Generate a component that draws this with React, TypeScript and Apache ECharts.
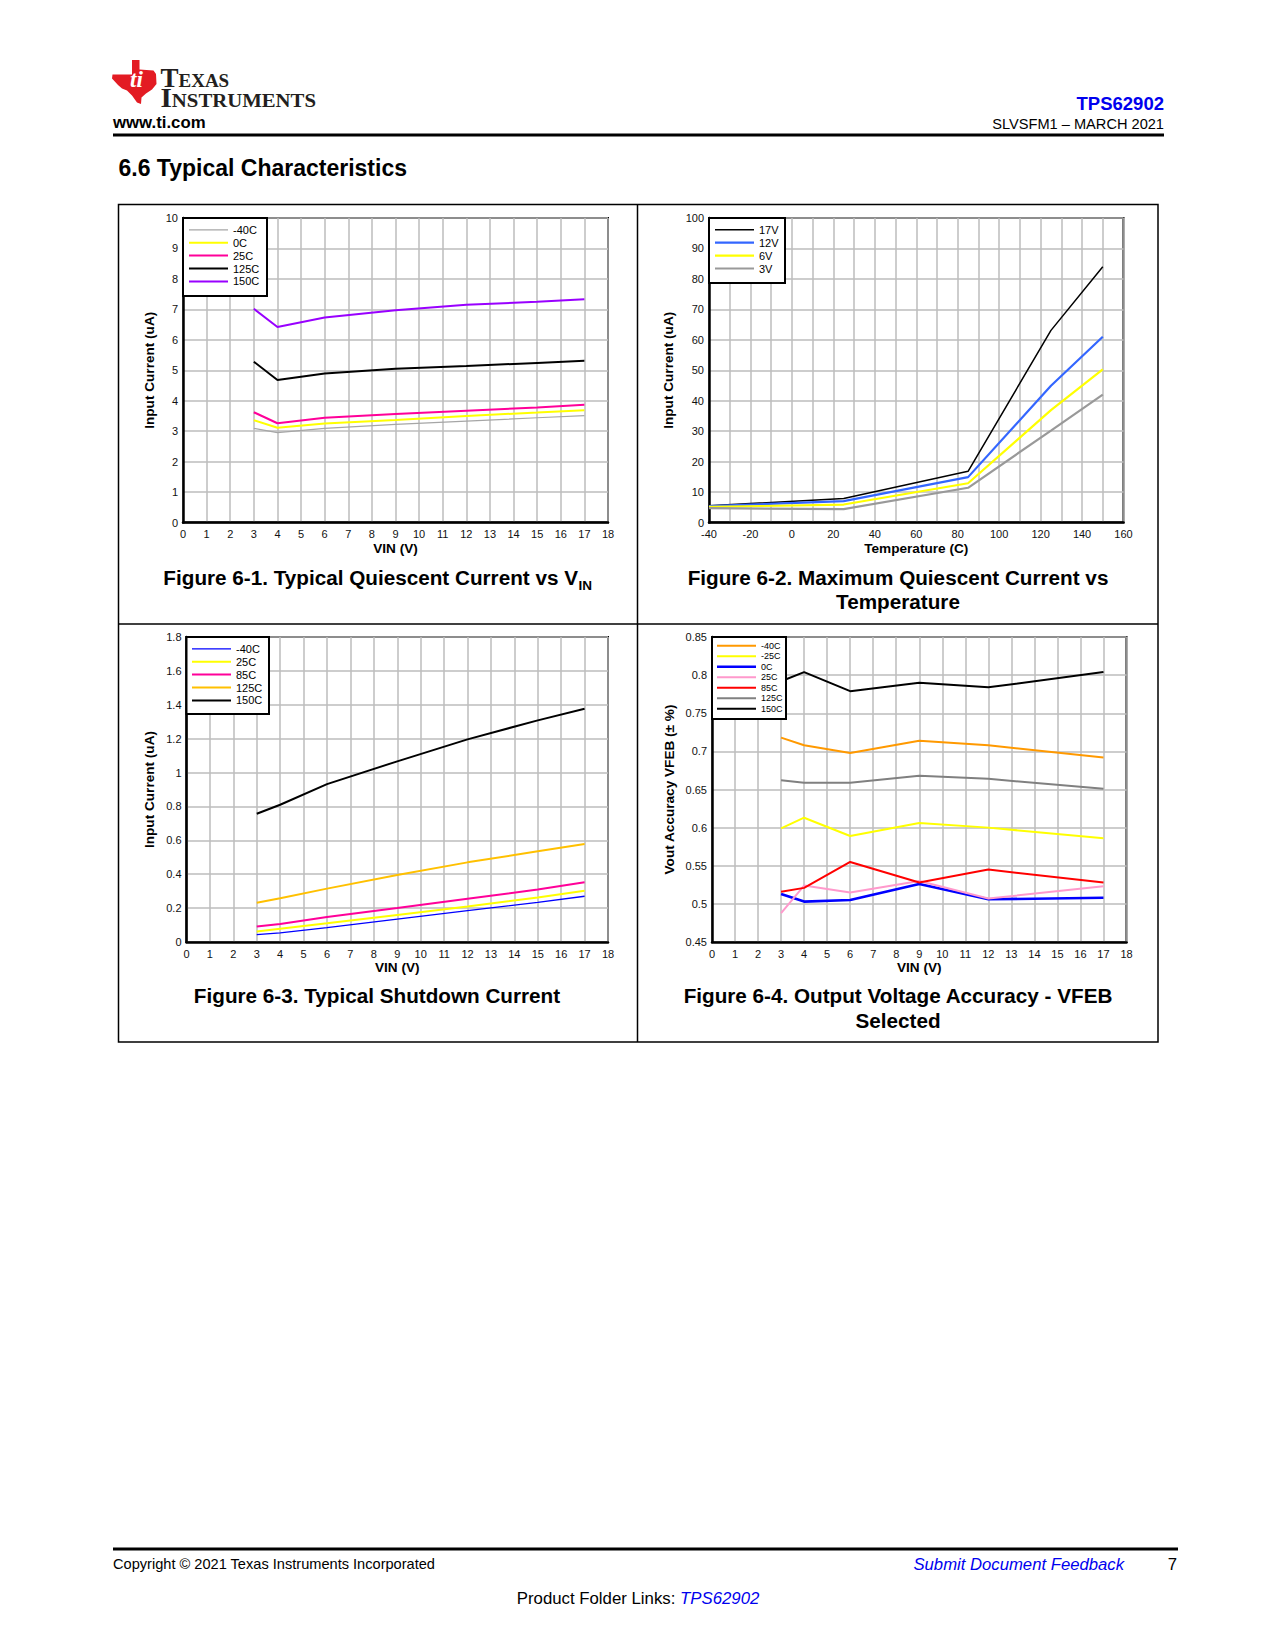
import React, { useEffect, useRef } from "react";
import * as echarts from "echarts";

const FONT = '"Liberation Sans", Arial, Helvetica, sans-serif';
const SERIF = '"Liberation Serif", "Times New Roman", serif';
const GRID_COLOR = "#bdbdbd";

// ---------- Figure 6-1: Typical Quiescent Current vs VIN ----------
const fig1Vin = [3, 4, 6, 9, 12, 15, 17];
const fig1Names = ["-40C", "0C", "25C", "125C", "150C"];
const fig1Minus40 = [3.09, 2.95, 3.09, 3.22, 3.33, 3.44, 3.51];
const fig1T0 = [3.36, 3.11, 3.25, 3.37, 3.5, 3.61, 3.69];
const fig1T25 = [3.62, 3.26, 3.44, 3.56, 3.67, 3.78, 3.87];
const fig1T125 = [5.28, 4.68, 4.89, 5.05, 5.14, 5.24, 5.31];
const fig1T150 = [7.02, 6.42, 6.73, 6.97, 7.15, 7.25, 7.33];

// ---------- Figure 6-2: Maximum Quiescent Current vs Temperature ----------
const fig2Temp = [-40, 25, 85, 125, 150];
const fig2Names = ["17V", "12V", "6V", "3V"];
const fig2V17 = [5.5, 7.9, 16.8, 63.1, 84];
const fig2V12 = [5.4, 7.0, 14.9, 44.9, 61];
const fig2V6 = [5.1, 5.9, 12.9, 36.9, 50.3];
const fig2V3 = [4.7, 4.4, 11.4, 30.2, 42];

// ---------- Figure 6-3: Typical Shutdown Current ----------
const fig3Vin = [3, 4, 6, 9, 12, 15, 17];
const fig3Names = ["-40C", "25C", "85C", "125C", "150C"];
const fig3Minus40 = [0.043, 0.054, 0.085, 0.135, 0.185, 0.234, 0.27];
const fig3T25 = [0.062, 0.078, 0.11, 0.16, 0.21, 0.262, 0.302];
const fig3T85 = [0.092, 0.106, 0.148, 0.2, 0.255, 0.31, 0.352];
const fig3T125 = [0.232, 0.258, 0.315, 0.395, 0.47, 0.535, 0.578];
const fig3T150 = [0.757, 0.81, 0.932, 1.066, 1.196, 1.308, 1.377];

// ---------- Figure 6-4: Output Voltage Accuracy - VFEB Selected ----------
const fig4Vin = [3, 4, 6, 9, 12, 17];
const fig4Names = ["-40C", "-25C", "0C", "25C", "85C", "125C", "150C"];
const fig4Minus40 = [0.718, 0.708, 0.698, 0.714, 0.708, 0.692];
const fig4Minus25 = [0.599, 0.613, 0.589, 0.606, 0.6, 0.586];
const fig4T0 = [0.513, 0.503, 0.505, 0.526, 0.506, 0.508];
const fig4T25 = [0.488, 0.524, 0.515, 0.53, 0.507, 0.523];
const fig4T85 = [0.516, 0.521, 0.555, 0.528, 0.545, 0.528];
const fig4T125 = [0.662, 0.659, 0.659, 0.668, 0.664, 0.651];
const fig4T150 = [0.792, 0.804, 0.779, 0.79, 0.784, 0.804];

// ---------- styles (kept apart from the data) ----------
const fig1Colors = ["#a6a6a6", "#ffff00", "#ff0099", "#000000", "#9900ff"];
const fig1Widths = [1.2, 2, 2, 2, 2];
const fig2Colors = ["#000000", "#3366ff", "#ffff00", "#999999"];
const fig2Widths = [1.5, 2.2, 2.2, 2.2];
const fig3Colors = ["#0000ff", "#ffff00", "#ff0099", "#ffc000", "#000000"];
const fig3Widths = [1.3, 2, 2, 2, 2];
const fig4Colors = ["#ff9900", "#ffff00", "#0000ff", "#ff99cc", "#ff0000", "#808080", "#000000"];
const fig4Widths = [2, 2, 2.6, 2, 2, 2, 2];

type Fig = {
  id: string;
  x: number[];
  names: string[];
  values: number[][];
  colors: string[];
  widths: number[];
};

const figs: Fig[] = [
  { id: "f1", x: fig1Vin, names: fig1Names, values: [fig1Minus40, fig1T0, fig1T25, fig1T125, fig1T150], colors: fig1Colors, widths: fig1Widths },
  { id: "f2", x: fig2Temp, names: fig2Names, values: [fig2V17, fig2V12, fig2V6, fig2V3], colors: fig2Colors, widths: fig2Widths },
  { id: "f3", x: fig3Vin, names: fig3Names, values: [fig3Minus40, fig3T25, fig3T85, fig3T125, fig3T150], colors: fig3Colors, widths: fig3Widths },
  { id: "f4", x: fig4Vin, names: fig4Names, values: [fig4Minus40, fig4Minus25, fig4T0, fig4T25, fig4T85, fig4T125, fig4T150], colors: fig4Colors, widths: fig4Widths },
];

const grids = [
  { left: 183, top: 218, width: 425, height: 304.5 },
  { left: 709, top: 218, width: 414.5, height: 304.5 },
  { left: 186.5, top: 637, width: 421.5, height: 305 },
  { left: 712, top: 637, width: 414.5, height: 305 },
];

const legendLayout = [
  { left: 189, top: 224.3, itemHeight: 10, gap: 1.9, fontSize: 11, box: [183, 218, 84, 78] },
  { left: 715, top: 224.3, itemHeight: 10, gap: 1.9, fontSize: 11, box: [709, 218, 76, 65] },
  { left: 192, top: 643.3, itemHeight: 10, gap: 1.9, fontSize: 11, box: [186.5, 637, 82.5, 77] },
  { left: 717, top: 641.2, itemHeight: 8, gap: 1.5, fontSize: 9, box: [712, 637, 74, 82] },
];

function xAxis(gi: number, min: number, max: number, interval: number, name: string, nameGap: number, minor = 0) {
  return {
    type: "value",
    gridIndex: gi,
    min,
    max,
    interval,
    name,
    nameLocation: "middle",
    nameGap,
    nameTextStyle: { fontFamily: FONT, fontWeight: "bold", fontSize: 13.6, color: "#000" },
    axisLine: { show: true, onZero: false, lineStyle: { color: "#000", width: 2.5 } },
    axisTick: { show: false },
    axisLabel: { margin: 6, fontFamily: FONT, fontSize: 11, color: "#111", showMinLabel: true, showMaxLabel: true },
    splitLine: { show: true, lineStyle: { color: GRID_COLOR, width: 1.5 } },
    minorTick: { show: false, splitNumber: minor || 5 },
    minorSplitLine: { show: minor > 0, lineStyle: { color: GRID_COLOR, width: 1.5 } },
  };
}

function yAxis(gi: number, min: number, max: number, interval: number, name: string, nameGap: number) {
  return {
    type: "value",
    gridIndex: gi,
    min,
    max,
    interval,
    name,
    nameLocation: "middle",
    nameGap,
    nameTextStyle: { fontFamily: FONT, fontWeight: "bold", fontSize: 13.6, color: "#000" },
    axisLine: { show: true, onZero: false, lineStyle: { color: "#000", width: 2.5 } },
    axisTick: { show: false },
    axisLabel: { margin: 5, fontFamily: FONT, fontSize: 11, color: "#111", showMinLabel: true, showMaxLabel: true },
    splitLine: { show: true, lineStyle: { color: GRID_COLOR, width: 1.5 } },
  };
}

function text(x: number, y: number, t: string, size: number, opts: any = {}) {
  const style: any = {
    text: t,
    fontFamily: opts.family ?? FONT,
    fontSize: size,
    fontWeight: opts.weight ?? "normal",
    fontStyle: opts.style ?? "normal",
    fill: opts.fill ?? "#000",
    align: opts.align ?? "left",
    verticalAlign: opts.valign ?? "middle",
  };
  if (opts.lineHeight) style.lineHeight = opts.lineHeight;
  return {
    type: "text",
    x,
    y,
    z: opts.z ?? 20,
    scaleX: opts.scaleX ?? 1,
    style,
  };
}

function logoWord(x: number, y: number, t: string, scaleX: number) {
  return {
    type: "text",
    x,
    y,
    z: 20,
    scaleX,
    style: {
      text: t,
      font: 'small-caps bold 27px "Liberation Serif", "Times New Roman", serif',
      lineHeight: 20,
      fill: "#231f20",
      align: "left",
      verticalAlign: "middle",
    },
  };
}

function line(x1: number, y1: number, x2: number, y2: number, w: number) {
  return { type: "line", z: 20, shape: { x1, y1, x2, y2 }, style: { stroke: "#000", lineWidth: w } };
}

function buildOption() {
  const series: any[] = [];
  const legends: any[] = [];
  figs.forEach((f, gi) => {
    f.names.forEach((n, si) => {
      series.push({
        type: "line",
        name: f.id + "|" + n,
        xAxisIndex: gi,
        yAxisIndex: gi,
        data: f.x.map((x, i) => [x, f.values[si][i]]),
        symbol: "none",
        showSymbol: false,
        silent: true,
        z: 2,
        lineStyle: { color: f.colors[si], width: f.widths[si] },
        itemStyle: { color: f.colors[si] },
      });
    });
    const L = legendLayout[gi];
    legends.push({
      show: true,
      orient: "vertical",
      left: L.left,
      top: L.top,
      padding: 0,
      itemGap: L.gap,
      itemWidth: 39,
      itemHeight: L.itemHeight,
      selectedMode: false,
      z: 11,
      data: f.names.map((n, si) => ({
        name: f.id + "|" + n,
        icon: `path://M0,0h39v${f.widths[si]}h-39z`,
      })),
      formatter: (name: string) => name.split("|")[1],
      itemStyle: { borderWidth: 0 },
      textStyle: { fontFamily: FONT, fontSize: L.fontSize, color: "#000", lineHeight: L.itemHeight },
    });
  });

  const legendBoxes = legendLayout.map((L) => ({
    type: "rect",
    z: 10,
    shape: { x: L.box[0], y: L.box[1], width: L.box[2], height: L.box[3] },
    style: { fill: "#fff", stroke: "#000", lineWidth: 2 },
  }));

  const logoPts = [
    [132, 60], [139.5, 60], [139.5, 69.5], [153.5, 70.5], [156, 74], [156.5, 84], [152, 89.5], [146, 93.5],
    [141.5, 97.5], [141, 104], [137, 102.5], [132, 95.5], [127, 90.5], [122, 88.5], [118, 85], [112, 78.5], [112.5, 74.5], [132, 74.5],
  ];

  const elements: any[] = [
    // header
    { type: "polygon", z: 20, shape: { points: logoPts }, style: { fill: "#e31b23" } },
    text(136.5, 79, "ti", 23, { weight: "bold", style: "italic", fill: "#fff", align: "center", family: SERIF, lineHeight: 20 }),
    logoWord(160.5, 77.5, "Texas", 1.0),
    logoWord(160.5, 97.5, "Instruments", 1.08),
    text(113, 122.5, "www.ti.com", 16.8, { weight: "bold" }),
    text(1164, 103, "TPS62902", 18.5, { weight: "bold", align: "right", fill: "#0000ee" }),
    text(1164, 124, "SLVSFM1 \u2013 MARCH 2021", 14.6, { align: "right" }),
    line(113, 135, 1164, 135, 3),
    text(118.5, 168.3, "6.6 Typical Characteristics", 23, { weight: "bold" }),

    // frame
    { type: "rect", z: 20, shape: { x: 118.5, y: 204.5, width: 1039.5, height: 837.5 }, style: { fill: "none", stroke: "#000", lineWidth: 1.5 } },
    line(637.5, 204.5, 637.5, 1042, 1.5),
    line(118.5, 624, 1158, 624, 1.5),

    // captions
    text(578, 577.5, "Figure 6-1. Typical Quiescent Current vs V", 20.7, { weight: "bold", align: "right" }),
    text(578.5, 585, "IN", 13.5, { weight: "bold" }),
    text(898, 577.5, "Figure 6-2. Maximum Quiescent Current vs", 20.7, { weight: "bold", align: "center" }),
    text(898, 601.5, "Temperature", 20.7, { weight: "bold", align: "center" }),
    text(377, 995.5, "Figure 6-3. Typical Shutdown Current", 20.7, { weight: "bold", align: "center" }),
    text(898, 995.5, "Figure 6-4. Output Voltage Accuracy - VFEB", 20.7, { weight: "bold", align: "center" }),
    text(898, 1020, "Selected", 20.7, { weight: "bold", align: "center" }),

    // footer
    line(113, 1549, 1178, 1549, 3),
    text(113, 1564, "Copyright \u00a9 2021 Texas Instruments Incorporated", 14.6),
    text(1124, 1564, "Submit Document Feedback", 16.7, { style: "italic", align: "right", fill: "#0000ee" }),
    text(1177, 1564, "7", 16.7, { align: "right" }),
    text(680, 1598.5, "Product Folder Links: ", 16.8, { align: "right" }),
    text(680, 1598.5, "TPS62902", 16.8, { style: "italic", fill: "#0000ee" }),
    ...legendBoxes,
  ];

  return {
    animation: false,
    backgroundColor: "#ffffff",
    textStyle: { fontFamily: FONT },
    grid: grids.map((g) => ({ ...g, show: true, borderColor: "#000", borderWidth: 2, backgroundColor: "transparent" })),
    xAxis: [
      xAxis(0, 0, 18, 1, "VIN (V)", 19),
      xAxis(1, -40, 160, 20, "Temperature (C)", 19, 2),
      xAxis(2, 0, 18, 1, "VIN (V)", 18.5),
      xAxis(3, 0, 18, 1, "VIN (V)", 18.5),
    ],
    yAxis: [
      yAxis(0, 0, 10, 1, "Input Current (uA)", 27),
      yAxis(1, 0, 100, 10, "Input Current (uA)", 34),
      yAxis(2, 0, 1.8, 0.2, "Input Current (uA)", 30),
      yAxis(3, 0.45, 0.85, 0.05, "Vout Accuracy VFEB (\u00b1 %)", 36),
    ],
    legend: legends,
    series,
    graphic: { elements },
  };
}

export default function App() {
  const ref = useRef<HTMLDivElement>(null);
  useEffect(() => {
    if (!ref.current) return;
    const chart = echarts.init(ref.current, undefined, { renderer: "svg" });
    chart.setOption(buildOption() as any);
    return () => chart.dispose();
  }, []);
  return (
    <div
      ref={ref}
      style={{ position: "absolute", left: 0, top: 0, width: 1275, height: 1650, background: "#fff" }}
    />
  );
}
